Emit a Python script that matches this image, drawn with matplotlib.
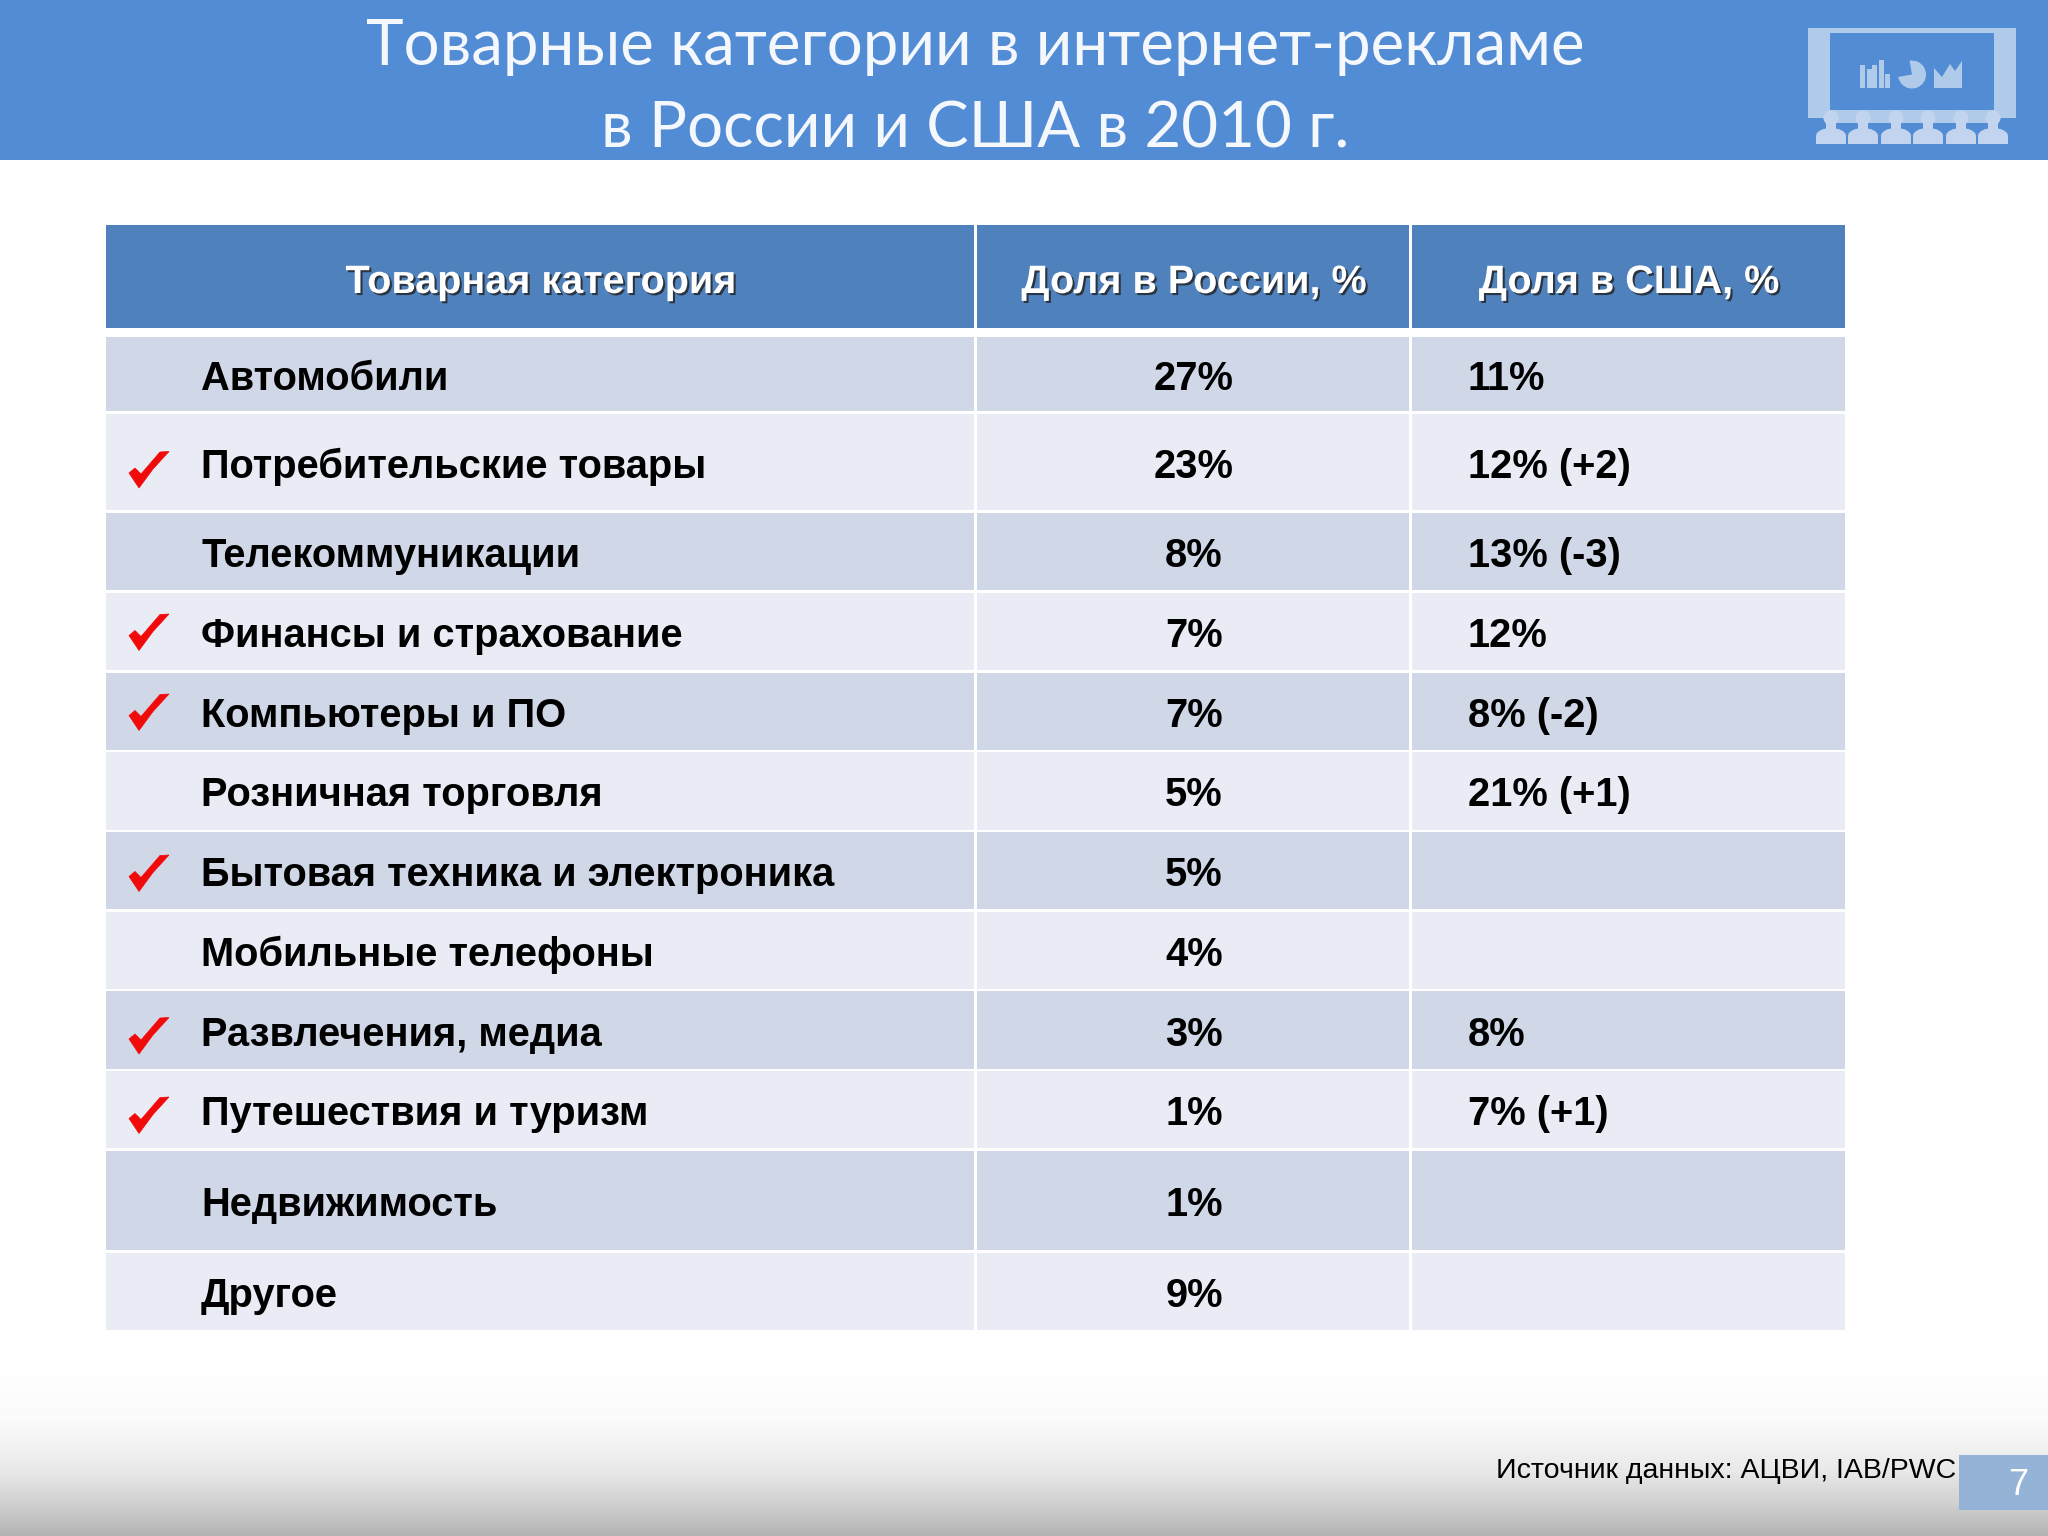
import numpy as np
import matplotlib
matplotlib.use("Agg")
import matplotlib.pyplot as plt
import matplotlib.patheffects as pe
from matplotlib.patches import Rectangle, Polygon, Circle, Wedge, Ellipse

# ---------- data ----------
title_lines = ["Товарные категории в интернет-рекламе", "в России и США в 2010 г."]
headers = ["Товарная категория", "Доля в России, %", "Доля в США, %"]
categories = ["Автомобили", "Потребительские товары", "Телекоммуникации",
              "Финансы и страхование", "Компьютеры и ПО", "Розничная торговля",
              "Бытовая техника и электроника", "Мобильные телефоны",
              "Развлечения, медиа", "Путешествия и туризм", "Недвижимость", "Другое"]
russia = ["27%", "23%", "8%", "7%", "7%", "5%", "5%", "4%", "3%", "1%", "1%", "9%"]
usa = ["11%", "12% (+2)", "13% (-3)", "12%", "8% (-2)", "21% (+1)", "", "",
       "8%", "7% (+1)", "", ""]
checked = [False, True, False, True, True, False, True, False, True, True, False, False]
source = "Источник данных: АЦВИ, IAB/PWC"
page = "7"

# ---------- layout (pixels) ----------
W, H = 2048, 1536
col_edges = [(106, 974), (977, 1409), (1412, 1845)]
row_edges = [(337, 411), (414, 510), (513, 590), (593, 670), (673, 750), (752, 830),
             (832, 909), (912, 989), (991, 1069), (1071, 1148), (1151, 1250), (1253, 1330)]
check_dy = [0, 7, 0, 0, 0, 0, 2, 0, 5, 5, 0, 0]

fig = plt.figure(figsize=(W / 100, H / 100), dpi=100)
ax = fig.add_axes([0, 0, 1, 1])

# bottom fade
stops_y = np.array([1350, 1420, 1470, 1500, 1536])
stops_v = np.array([255, 250, 232, 210, 178]) / 255
ramp = np.interp(np.arange(1350, 1536), stops_y, stops_v)
ax.imshow(ramp[:, None], extent=(0, W, 1536, 1350), cmap="gray", vmin=0, vmax=1,
          aspect="auto", zorder=0)
ax.set_xlim(0, W)
ax.set_ylim(H, 0)
ax.axis("off")

# top band
band = "#528cd5"
ax.add_patch(Rectangle((0, 0), W, 160, fc=band, ec="none", zorder=1))
body = "Lato"
ax.text(975, 65, title_lines[0], color="#f4f7fc", fontsize=45.8, family=body,
        ha="center", va="baseline", zorder=3)
ax.text(975, 147, title_lines[1], color="#f4f7fc", fontsize=45.8, family=body,
        ha="center", va="baseline", zorder=3)

# icon
ic = "#b0cbea"
ax.add_patch(Rectangle((1808, 28), 208, 90, fc=ic, ec="none", zorder=2))
ax.add_patch(Rectangle((1830, 33), 164, 77, fc=band, ec="none", zorder=2))
ax.add_patch(Rectangle((1830, 118), 164, 5, fc=ic, ec="none", zorder=2))
for l, t in [(1860, 65), (1867, 69), (1872, 65), (1879, 60), (1885, 74)]:
    ax.add_patch(Rectangle((l, t), 5, 88 - t, fc=ic, ec="none", zorder=3))
ax.add_patch(Wedge((1912, 74.5), 14, 260, 530, fc=ic, ec="none", zorder=3))
ax.add_patch(Polygon([(1934, 88), (1934, 68), (1942, 77), (1950, 64), (1955, 71),
                      (1962, 61), (1962, 88)], fc=ic, ec="none", zorder=3))
person = "#c3d4ee"
for cx in [1831, 1863, 1896, 1928, 1961, 1993]:
    ax.add_patch(Circle((cx, 118), 7.5, fc=person, ec="none", zorder=4))
    ax.add_patch(Rectangle((cx - 5, 122), 10, 8, fc=person, ec="none", zorder=4))
    ax.add_patch(Ellipse((cx, 136), 30, 16, fc=person, ec="none", zorder=4))
    ax.add_patch(Rectangle((cx - 15, 136), 30, 8, fc=person, ec="none", zorder=4))

# table
head_col = "#4f81bd"
odd, even = "#d0d8e8", "#e9ecf4"
arial = "Liberation Sans"
shadow = [pe.SimplePatchShadow(offset=(1.5, -1.5), shadow_rgbFace="#222222", alpha=0.8), pe.Normal()]
head_centers = [541, 1194, 1629]
for (x0, x1), label, cx in zip(col_edges, headers, head_centers):
    ax.add_patch(Rectangle((x0, 225), x1 - x0, 103, fc=head_col, ec="none", zorder=2))
    ax.text(cx, 293, label, color="white", fontsize=28.5, fontweight="bold", family=arial,
            ha="center", va="baseline", zorder=3, path_effects=shadow)

check_shape = np.array([(0, 23), (6, 18), (12, 24), (31, 2), (40, 1.5), (24, 19), (10, 38)], float)
row_fs = 28.7
for i, (y0, y1) in enumerate(row_edges):
    col = odd if i % 2 == 0 else even
    for x0, x1 in col_edges:
        ax.add_patch(Rectangle((x0, y0), x1 - x0, y1 - y0, fc=col, ec="none", zorder=2))
    yc = (y0 + y1) / 2
    base = yc + 15.5
    ax.text(201, base, categories[i], color="black", fontsize=row_fs, fontweight="bold",
            family=arial, ha="left", va="baseline", zorder=3)
    ax.text(1194, base, russia[i], color="black", fontsize=row_fs, fontweight="bold",
            family=arial, ha="center", va="baseline", zorder=3)
    if usa[i]:
        ax.text(1468, base, usa[i], color="black", fontsize=row_fs, fontweight="bold",
                family=arial, ha="left", va="baseline", zorder=3)
    if checked[i]:
        pts = check_shape + [129, yc - 19 + check_dy[i]]
        ax.add_patch(Polygon(pts, fc="#f00a0a", ec="#f00a0a", lw=0.5, zorder=3))

# footer
ax.text(1956, 1478, source, color="black", fontsize=20.5, family=arial,
        ha="right", va="baseline", zorder=3)
ax.add_patch(Rectangle((1959, 1455), 89, 55, fc="#95b3d7", ec="none", zorder=2))
ax.text(2018, 1495, page, color="white", fontsize=26, family=arial,
        ha="center", va="baseline", zorder=3)

fig.savefig("out.png", dpi=100)
